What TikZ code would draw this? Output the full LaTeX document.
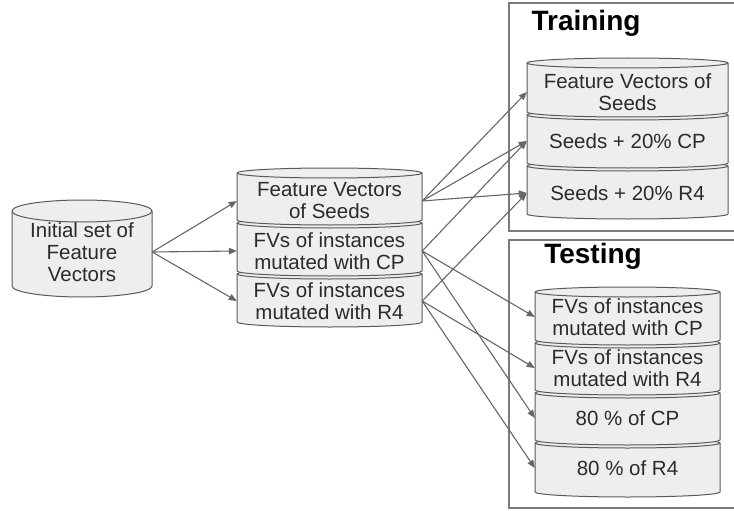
\documentclass[tikz,border=0pt]{standalone}
\usepackage{fontspec}
\setmainfont{Liberation Sans}
\usetikzlibrary{arrows.meta}

\definecolor{canfill}{HTML}{EEEEEE}
\definecolor{canedge}{HTML}{5A5A5A}
\definecolor{flowc}{HTML}{666666}
\definecolor{boxc}{HTML}{7A7A7A}
\definecolor{txt}{HTML}{2B2B2B}

% A can-shaped section: #1 left x, #2 right x, #3 y of the top rim,
% #4 y where the sides end, #5 vertical radius of the rims
\newcommand{\cansection}[5]{%
  \pgfmathsetmacro\canrx{(#2-#1)/2}%
  \path[canbody] (#1,#3) -- (#1,#4)
    arc[start angle=180, end angle=0, x radius=\canrx, y radius=#5]
    -- (#2,#3)
    arc[start angle=0, end angle=-180, x radius=\canrx, y radius=#5]
    -- cycle;
  \draw[canrim] (#1,#3)
    arc[start angle=180, end angle=0, x radius=\canrx, y radius=#5];
}

\begin{document}
\begin{tikzpicture}[x=1pt, y=-1pt,
  canbody/.style={fill=canfill, draw=canedge, line width=1pt},
  canrim/.style={draw=canedge, line width=1pt},
  sect/.style={minimum width=#1pt, minimum height=20pt, inner sep=0pt,
    align=center, text=txt, font=\fontsize{20.5}{22}\selectfont},
  heading/.style={inner sep=0pt, text=black,
    font=\fontsize{28}{30}\selectfont\bfseries},
  group/.style={draw=boxc, line width=1.4pt},
  flow/.style={draw=flowc, line width=1.1pt,
    -{Triangle[length=8pt, width=6.5pt]}}]

\useasboundingbox (0,0) rectangle (734,511);

% group frames (open on the right)
\draw[group] (734,3) -- (509,3) -- (509,231) -- (734,231);
\draw[group] (734,240) -- (509,240) -- (509,508) -- (734,508);

% source store
\cansection{12}{152}{211}{286}{11}

% middle stack (drawn bottom-up so upper sections overlap)
\cansection{237}{422}{274}{322}{5}
\cansection{237}{422}{223}{271}{5}
\cansection{237}{422}{173}{220}{5}

% training stack
\cansection{527}{728}{166}{214}{5}
\cansection{527}{728}{115}{163}{5}
\cansection{527}{728}{63}{112}{5}

% testing stack
\cansection{535}{720}{443}{492}{5}
\cansection{535}{720}{393}{440}{5}
\cansection{535}{720}{343}{390}{5}
\cansection{535}{720}{292}{340}{5}

% labels
\node[sect=140] (init) at (82,252) {Initial set of\\Feature\\Vectors};

\node[sect=185] (m1) at (329.5,201) {Feature Vectors\\of Seeds};
\node[sect=185] (m2) at (329.5,251) {FVs of instances\\mutated with CP};
\node[sect=185] (m3) at (329.5,301) {FVs of instances\\mutated with R4};

\node[heading] (trainlbl) at (586,23) {Training};
\node[sect=201] (t1) at (627.5,92) {Feature Vectors of\\Seeds};
\node[sect=201] (t2) at (627.5,141) {Seeds + 20\% CP};
\node[sect=201] (t3) at (627.5,193) {Seeds + 20\% R4};

\node[heading] (testlbl) at (593,256) {Testing};
\node[sect=185] (p1) at (627.5,317) {FVs of instances\\mutated with CP};
\node[sect=185] (p2) at (627.5,368) {FVs of instances\\mutated with R4};
\node[sect=185] (p3) at (627.5,418) {80 \% of CP};
\node[sect=185] (p4) at (627.5,468) {80 \% of R4};

% connectors
\draw[flow] (init.east) -- (m1.west);
\draw[flow] (init.east) -- (m2.west);
\draw[flow] (init.east) -- (m3.west);

\draw[flow] (m1.east) -- (t1.west);
\draw[flow] (m1.east) -- (t2.west);
\draw[flow] (m1.east) -- (t3.west);
\draw[flow] (m2.east) -- (t2.west);
\draw[flow] (m3.east) -- (t3.west);

\draw[flow] (m2.east) -- (p1.west);
\draw[flow] (m2.east) -- (p3.west);
\draw[flow] (m3.east) -- (p2.west);
\draw[flow] (m3.east) -- (p4.west);
\end{tikzpicture}
\end{document}
